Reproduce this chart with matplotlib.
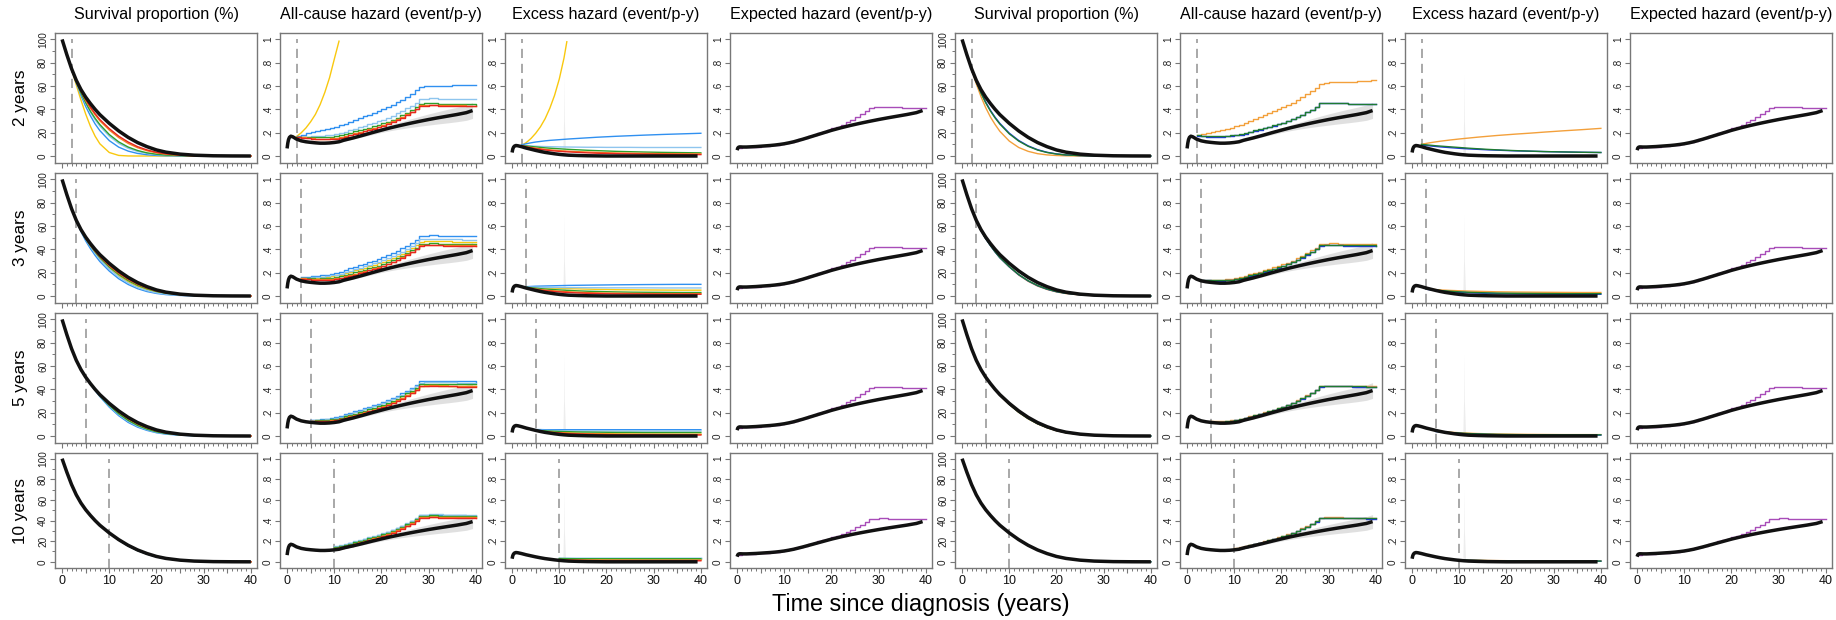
#imports for plotting
import matplotlib
matplotlib.use("Agg")
import matplotlib.pyplot as plt

plt.rcParams['font.family'] = ['Liberation Sans', 'DejaVu Sans']

#titles and labels
col_titles = ['Survival proportion (%)', 'All-cause hazard (event/p-y)',
              'Excess hazard (event/p-y)', 'Expected hazard (event/p-y)']
row_labels = ['2 years', '3 years', '5 years', '10 years']
cutoffs = [2, 3, 5, 10]

#colours of the models (left block, right block)
left_colors = ['#F9C80E', '#3090F0', '#8EC5EE', '#2DA02D', '#F58220', '#E6261F']
right_colors = ['#F3A03B', '#1F35E0', '#1E7B32']
purple = '#A84CB8'

#time grids
t_grid = [0, 1, 2, 3, 4, 5, 6, 7, 8, 10, 12, 14, 16, 18, 20, 22, 25, 28, 32, 36, 40]
years = list(range(41))
t_h = [0, 0.15, 0.3, 0.5, 0.8, 1.2, 1.6, 2, 3, 4, 5, 6, 7, 8, 9, 10, 11, 12, 14, 16,
       18, 20, 22, 24, 26, 28, 30, 32, 34, 36, 38, 39.3]

#observed (black) curves
surv_black = [100, 87, 75, 65, 57, 50.5, 45, 40, 35.5, 28, 21.5, 16, 11.5, 8, 5.2, 3.3,
              1.6, 0.7, 0.2, 0.05, 0]
allcause_black = [0.065, 0.11, 0.14, 0.16, 0.17, 0.165, 0.155, 0.145, 0.13, 0.122, 0.117,
                  0.113, 0.11, 0.11, 0.112, 0.116, 0.122, 0.135, 0.155, 0.177, 0.2, 0.222,
                  0.243, 0.262, 0.28, 0.297, 0.313, 0.328, 0.342, 0.356, 0.372, 0.39]
allcause_lo = [0.06, 0.105, 0.135, 0.155, 0.165, 0.16, 0.15, 0.14, 0.125, 0.117, 0.112,
               0.108, 0.105, 0.105, 0.107, 0.111, 0.117, 0.127, 0.145, 0.164, 0.183, 0.202,
               0.218, 0.232, 0.244, 0.255, 0.265, 0.275, 0.284, 0.294, 0.306, 0.322]
allcause_hi = [0.07, 0.115, 0.145, 0.165, 0.175, 0.17, 0.16, 0.15, 0.135, 0.127, 0.122,
               0.118, 0.115, 0.115, 0.117, 0.121, 0.127, 0.143, 0.165, 0.19, 0.217, 0.242,
               0.268, 0.292, 0.316, 0.339, 0.361, 0.381, 0.4, 0.418, 0.438, 0.458]
excess_black = [0.03, 0.06, 0.075, 0.085, 0.09, 0.088, 0.084, 0.08, 0.068, 0.058, 0.048,
                0.039, 0.031, 0.025, 0.019, 0.014, 0.01, 0.007, 0.004, 0.002, 0.001, 0,
                0, 0, 0, 0, 0, 0, 0, 0, 0, 0]
expected_black = [0.05, 0.068, 0.075, 0.078, 0.078, 0.077, 0.077, 0.077, 0.079, 0.081, 0.084,
                  0.087, 0.09, 0.094, 0.099, 0.105, 0.113, 0.122, 0.145, 0.17, 0.195, 0.22,
                  0.242, 0.262, 0.28, 0.297, 0.313, 0.328, 0.342, 0.356, 0.372, 0.39]
#yearly population hazard (purple steps)
expected_step = [0.07, 0.076, 0.077, 0.079, 0.081, 0.084, 0.087, 0.091, 0.096, 0.102, 0.11,
                 0.12, 0.132, 0.145, 0.158, 0.171, 0.184, 0.197, 0.21, 0.223, 0.236, 0.252,
                 0.27, 0.29, 0.311, 0.334, 0.358, 0.384, 0.415, 0.418, 0.42, 0.42, 0.419,
                 0.418, 0.417, 0.416, 0.415, 0.415, 0.414, 0.414, 0.413]
#faint spike in the excess panels
spike_x = [10.85, 11.02, 11.1, 11.18, 11.45]
spike_y = [0, 0.3, 0.7, 0.3, 0]

# ---------- 2 years ----------
#left block: gold, dodgerblue, skyblue, green, orange, red
surv_2y_left = [
    [75, 61, 48, 36, 25.5, 17, 10.5, 3, 0.5, 0.05, 0, 0, 0, 0, 0, 0, 0, 0, 0],
    [75, 63, 52, 42.5, 34.5, 27.5, 21.8, 13.2, 7.6, 4.2, 2.2, 1.1, 0.5, 0.2, 0.05, 0.01, 0, 0, 0],
    [75, 63.5, 53.5, 45, 37.5, 31, 25.6, 17, 10.8, 6.6, 3.9, 2.2, 1.2, 0.6, 0.2, 0.05, 0, 0, 0],
    [75, 64, 54, 45.8, 38.5, 32.3, 27, 18.4, 12.1, 7.7, 4.7, 2.7, 1.5, 0.8, 0.3, 0.08, 0.01, 0, 0],
    [75, 64.5, 55.5, 47.8, 41, 35.3, 30.2, 22.3, 15.8, 10.8, 7.1, 4.5, 2.7, 1.6, 0.6, 0.15, 0.02, 0, 0],
    [75, 65, 56, 48.5, 42, 36.3, 31.3, 23.5, 17, 12, 8, 5.2, 3.2, 1.9, 0.8, 0.25, 0.05, 0.01, 0]]
surv_2y_right = [
    [75, 62, 51, 41.5, 33.5, 27, 21.2, 12.8, 7.3, 4, 2, 0.95, 0.42, 0.16, 0.03, 0, 0, 0, 0],
    [75, 64, 54.5, 46.3, 39.2, 33.2, 28, 19.6, 13.3, 8.7, 5.4, 3.2, 1.8, 0.95, 0.35, 0.1, 0.01, 0, 0],
    [75, 63.8, 54, 45.7, 38.6, 32.6, 27.4, 19, 12.8, 8.3, 5.1, 3, 1.7, 0.9, 0.33, 0.09, 0.01, 0, 0]]
#gold model explodes, kept on its own time points
gold_2y_t = [2, 3, 4, 5, 6, 7, 8, 9, 10, 11, 11.6]
gold_2y_excess = [0.09, 0.115, 0.15, 0.195, 0.25, 0.32, 0.41, 0.52, 0.66, 0.84, 0.98]
gold_2y_allcause = [0.167, 0.199, 0.241, 0.294, 0.357, 0.441, 0.546, 0.672, 0.83, 0.985]
excess_2y_left = [
    None,
    [.095, .105, .113, .12, .125, .13, .134, .14, .146, .151, .156, .161, .165, .169, .174, .179, .185, .19, .195],
    [.09, .088, .086, .084, .082, .081, .08, .078, .077, .076, .075, .075, .074, .074, .074, .073, .073, .073, .073],
    [.09, .086, .082, .078, .074, .07, .067, .062, .057, .053, .049, .046, .043, .04, .037, .034, .031, .029, .027],
    [.088, .08, .073, .067, .062, .057, .053, .046, .041, .037, .034, .031, .028, .026, .024, .022, .02, .019, .018],
    [.087, .078, .07, .063, .057, .052, .047, .04, .035, .031, .027, .024, .022, .02, .018, .016, .014, .013, .012]]
excess_2y_right = [
    [.10, .108, .115, .121, .127, .132, .137, .146, .154, .162, .169, .176, .182, .188, .196, .205, .216, .226, .237],
    [.095, .09, .086, .082, .078, .075, .072, .066, .061, .057, .053, .05, .047, .044, .041, .038, .035, .032, .03],
    [.10, .096, .092, .088, .085, .082, .079, .073, .067, .062, .057, .053, .049, .046, .042, .038, .035, .032, .03]]
allcause_2y_left = [
    None,
    [.172, .184, .194, .204, .212, .221, .230, .239, .250, .263, .278, .293, .309, .324, .340, .355, .371, .386, .401, .419,
     .439, .461, .484, .508, .534, .562, .594, .598, .602, .603, .604, .604, .604, .605, .605, .606, .606, .608, .608],
    [.167, .167, .167, .168, .169, .172, .176, .181, .188, .198, .209, .222, .234, .247, .259, .272, .285, .298, .311, .327,
     .345, .365, .385, .408, .432, .458, .489, .492, .494, .494, .493, .492, .491, .490, .488, .488, .487, .487, .486],
    [.167, .165, .163, .162, .161, .161, .163, .166, .172, .179, .189, .200, .211, .222, .233, .244, .256, .267, .279, .293,
     .310, .329, .349, .371, .394, .419, .449, .451, .453, .452, .450, .449, .447, .446, .444, .444, .442, .442, .440],
    [.165, .159, .154, .151, .149, .148, .149, .151, .156, .163, .173, .184, .195, .206, .218, .229, .241, .252, .264, .279,
     .296, .315, .336, .358, .381, .406, .437, .439, .441, .440, .439, .438, .436, .435, .434, .434, .432, .432, .431],
    [.164, .157, .151, .147, .144, .143, .143, .145, .150, .157, .167, .178, .189, .200, .211, .222, .234, .246, .258, .273,
     .290, .309, .329, .352, .375, .400, .431, .433, .435, .434, .433, .432, .430, .429, .428, .428, .426, .426, .425]]
allcause_2y_right = [
    [.177, .187, .196, .205, .214, .223, .233, .244, .256, .270, .286, .303, .320, .337, .353, .370, .386, .402, .418, .437,
     .458, .481, .504, .530, .557, .586, .620, .626, .631, .633, .635, .636, .638, .639, .641, .644, .646, .648, .650],
    [.172, .169, .167, .166, .165, .166, .168, .171, .176, .183, .193, .204, .215, .226, .237, .248, .260, .271, .283, .297,
     .314, .333, .353, .375, .398, .423, .453, .455, .456, .455, .454, .452, .450, .449, .447, .446, .445, .444, .443],
    [.177, .175, .173, .172, .172, .173, .175, .178, .183, .190, .199, .210, .220, .231, .241, .252, .263, .274, .285, .299,
     .316, .334, .354, .375, .398, .423, .453, .455, .456, .455, .454, .452, .450, .449, .447, .446, .445, .444, .443]]

# ---------- 3 years ----------
surv_3y_left = [
    [65, 56.3, 49, 42.8, 37.1, 32.1, 24, 17.4, 12.2, 8.3, 5.4, 3.3, 2, 0.9, 0.35, 0.08, 0.02, 0],
    [65, 55.3, 47.3, 40.7, 34.8, 29.6, 21.4, 14.8, 9.9, 6.3, 3.8, 2.2, 1.2, 0.45, 0.15, 0.03, 0.01, 0],
    [65, 56.1, 48.8, 42.4, 36.6, 31.5, 23.2, 16.4, 11.2, 7.3, 4.6, 2.7, 1.6, 0.65, 0.23, 0.05, 0.01, 0],
    [65, 56.4, 49.2, 43.2, 37.8, 32.9, 24.9, 18.5, 13.3, 9.2, 6.2, 3.9, 2.4, 1.1, 0.47, 0.12, 0.03, 0],
    [65, 56.6, 49.6, 43.7, 38.4, 33.7, 25.9, 19.4, 14.2, 10, 6.8, 4.3, 2.7, 1.25, 0.52, 0.14, 0.03, 0],
    [65, 56.7, 49.8, 44, 38.8, 34.1, 26.4, 19.9, 14.6, 10.3, 7, 4.5, 2.8, 1.3, 0.55, 0.15, 0.04, 0]]
surv_3y_right = [
    [65, 56.5, 49.5, 43.5, 38, 33, 25, 18, 12.6, 8.5, 5.6, 3.5, 2.1, 0.95, 0.38, 0.1, 0.02, 0],
    [65, 56.3, 49.2, 43.2, 37.7, 32.8, 25, 18.2, 12.9, 8.8, 5.8, 3.7, 2.3, 1.05, 0.42, 0.11, 0.02, 0],
    [65, 56.4, 49.3, 43.3, 37.9, 33, 25.2, 18.4, 13.1, 9, 6, 3.8, 2.35, 1.1, 0.45, 0.12, 0.03, 0]]
excess_3y_left = [
    [.077, .075, .073, .071, .07, .068, .066, .063, .061, .059, .057, .056, .054, .053, .052, .051, .05, .05],
    [.08, .082, .084, .085, .086, .087, .089, .091, .092, .093, .094, .095, .096, .097, .098, .099, .1, .1],
    [.078, .077, .076, .075, .075, .074, .073, .072, .072, .071, .071, .07, .07, .07, .07, .069, .069, .069],
    [.075, .071, .067, .063, .06, .057, .052, .048, .044, .041, .039, .037, .035, .033, .032, .031, .03, .03],
    [.072, .066, .06, .055, .051, .047, .041, .036, .032, .029, .027, .025, .024, .022, .021, .02, .02, .02],
    [.07, .063, .057, .051, .046, .042, .035, .03, .026, .023, .021, .019, .018, .017, .016, .015, .015, .015]]
excess_3y_right = [
    [.062, .058, .055, .052, .05, .048, .045, .042, .04, .038, .036, .035, .034, .033, .032, .031, .03, .03],
    [.058, .053, .048, .044, .04, .037, .032, .028, .025, .022, .02, .019, .018, .017, .016, .015, .015, .015],
    [.06, .055, .051, .047, .044, .041, .036, .032, .029, .027, .025, .024, .023, .022, .021, .02, .02, .02]]
allcause_3y_left = [
    [.156, .156, .157, .158, .161, .164, .169, .176, .184, .195, .207, .219, .231, .243, .255, .267, .280, .292, .307, .324,
     .344, .364, .387, .411, .436, .467, .470, .472, .471, .470, .469, .468, .467, .465, .465, .464, .464, .463],
    [.159, .163, .168, .172, .177, .183, .190, .199, .210, .223, .237, .250, .264, .277, .291, .304, .318, .331, .348, .366,
     .386, .408, .431, .455, .482, .513, .516, .519, .519, .518, .518, .517, .516, .515, .515, .514, .514, .513],
    [.157, .158, .160, .162, .166, .170, .176, .183, .193, .204, .217, .230, .242, .255, .268, .281, .293, .306, .322, .340,
     .360, .381, .404, .428, .454, .485, .488, .490, .490, .489, .488, .487, .486, .485, .484, .483, .483, .482],
    [.154, .152, .151, .150, .151, .153, .157, .162, .170, .180, .191, .202, .214, .225, .237, .249, .261, .273, .288, .305,
     .325, .345, .367, .391, .416, .447, .450, .451, .451, .450, .449, .447, .446, .445, .445, .444, .444, .443],
    [.151, .147, .144, .142, .142, .143, .146, .151, .158, .168, .179, .190, .202, .213, .225, .237, .249, .261, .277, .294,
     .313, .334, .356, .380, .405, .436, .439, .440, .440, .439, .438, .437, .436, .435, .435, .434, .434, .433],
    [.149, .144, .141, .138, .137, .138, .140, .145, .153, .162, .173, .184, .196, .207, .219, .231, .243, .255, .271, .288,
     .308, .328, .351, .375, .400, .431, .434, .435, .435, .434, .433, .432, .431, .430, .430, .429, .429, .428]]
allcause_3y_right = [
    [.141, .139, .139, .139, .141, .144, .149, .155, .164, .174, .186, .198, .210, .222, .234, .246, .259, .271, .287, .304,
     .324, .344, .367, .391, .416, .447, .450, .452, .451, .450, .449, .448, .446, .445, .445, .444, .444, .443],
    [.137, .134, .132, .131, .131, .133, .137, .142, .150, .160, .172, .183, .195, .206, .218, .230, .243, .255, .271, .288,
     .308, .328, .351, .375, .400, .431, .434, .436, .435, .434, .433, .432, .431, .430, .430, .429, .429, .428],
    [.139, .136, .135, .134, .135, .137, .141, .146, .154, .164, .176, .187, .199, .211, .223, .235, .248, .260, .276, .293,
     .313, .333, .356, .380, .405, .436, .439, .441, .440, .439, .438, .437, .436, .435, .435, .434, .434, .433]]

# ---------- 5 years ----------
surv_5y_left = [
    [50.5, 44.9, 39.8, 35.1, 27.1, 20.2, 14.5, 10, 6.7, 4.2, 2.6, 1.2, 0.5, 0.13, 0.03, 0],
    [50.5, 44.6, 39, 33.8, 24.8, 17.4, 11.7, 7.6, 4.8, 2.8, 1.6, 0.68, 0.25, 0.06, 0.01, 0],
    [50.5, 44.8, 39.4, 34.3, 25.6, 18.3, 12.6, 8.3, 5.4, 3.2, 1.9, 0.81, 0.31, 0.08, 0.02, 0],
    [50.5, 44.9, 39.6, 34.6, 26.2, 19.1, 13.4, 9.1, 5.9, 3.6, 2.2, 0.96, 0.38, 0.1, 0.03, 0],
    [50.5, 45, 39.8, 35.2, 27.3, 20.4, 14.8, 10.3, 6.9, 4.4, 2.7, 1.25, 0.52, 0.14, 0.03, 0],
    [50.5, 45, 39.9, 35.3, 27.5, 20.7, 15.1, 10.6, 7.2, 4.6, 2.8, 1.3, 0.55, 0.15, 0.04, 0]]
surv_5y_right = [
    [50.5, 44.8, 39.6, 34.9, 26.9, 20.2, 14.7, 10.3, 7, 4.5, 2.8, 1.3, 0.54, 0.15, 0.04, 0],
    [50.5, 44.9, 39.7, 35.1, 27.2, 20.6, 15.1, 10.6, 7.3, 4.8, 3, 1.4, 0.58, 0.16, 0.04, 0],
    [50.5, 44.9, 39.7, 35, 27.1, 20.4, 14.9, 10.5, 7.2, 4.7, 2.9, 1.38, 0.57, 0.16, 0.04, 0]]
excess_5y_left = [
    [.045, .042, .039, .036, .031, .027, .024, .022, .02, .019, .018, .017, .016, .016, .015, .015],
    [.055, .055, .054, .054, .054, .054, .054, .054, .054, .054, .054, .054, .054, .054, .054, .054],
    [.05, .049, .048, .047, .046, .045, .045, .044, .044, .044, .043, .043, .043, .043, .043, .043],
    [.048, .046, .044, .042, .039, .037, .035, .034, .033, .032, .031, .031, .03, .03, .03, .03],
    [.045, .041, .037, .034, .028, .024, .021, .019, .017, .016, .015, .014, .014, .013, .013, .013],
    [.044, .039, .035, .031, .025, .02, .017, .015, .013, .012, .011, .01, .01, .009, .009, .009]]
excess_5y_right = [
    [.042, .039, .036, .033, .028, .024, .021, .019, .017, .016, .015, .014, .013, .012, .012, .012],
    [.039, .035, .031, .028, .023, .019, .016, .014, .012, .011, .01, .009, .009, .008, .008, .008],
    [.04, .036, .033, .03, .025, .021, .018, .016, .014, .013, .012, .011, .011, .01, .01, .01]]
allcause_5y_left = [
    [.129, .129, .130, .132, .136, .141, .149, .159, .171, .182, .194, .206, .218, .230, .243, .255, .271, .288,
     .308, .328, .351, .375, .400, .431, .434, .436, .436, .435, .434, .432, .431, .430, .430, .429, .429, .428],
    [.138, .141, .145, .150, .156, .164, .174, .186, .199, .212, .225, .238, .251, .264, .277, .290, .306, .324,
     .344, .365, .388, .412, .438, .469, .472, .474, .474, .473, .472, .471, .470, .469, .469, .468, .468, .467],
    [.134, .136, .139, .143, .149, .156, .166, .177, .190, .203, .216, .228, .241, .254, .267, .280, .296, .314,
     .333, .354, .377, .401, .427, .458, .461, .463, .463, .462, .461, .460, .459, .458, .458, .457, .457, .456],
    [.132, .133, .135, .138, .143, .149, .158, .169, .181, .193, .206, .218, .231, .243, .256, .268, .284, .301,
     .321, .342, .365, .388, .414, .445, .448, .450, .450, .449, .448, .447, .446, .445, .445, .444, .444, .443],
    [.129, .128, .128, .130, .133, .138, .146, .156, .168, .179, .191, .203, .215, .227, .240, .252, .268, .285,
     .305, .326, .348, .372, .398, .429, .432, .434, .434, .432, .431, .430, .429, .428, .428, .427, .427, .426],
    [.128, .126, .126, .127, .130, .135, .143, .152, .164, .175, .187, .199, .211, .223, .236, .248, .264, .281,
     .301, .321, .344, .368, .394, .425, .428, .430, .429, .428, .427, .426, .425, .424, .424, .423, .423, .422]]
allcause_5y_right = [
    [.126, .126, .127, .129, .133, .138, .146, .156, .168, .179, .191, .203, .215, .227, .240, .252, .268, .285,
     .305, .325, .348, .372, .397, .428, .431, .432, .432, .431, .430, .429, .428, .427, .427, .426, .426, .425],
    [.123, .122, .122, .124, .128, .133, .141, .151, .163, .174, .186, .198, .210, .222, .235, .247, .263, .280,
     .300, .320, .343, .367, .393, .424, .427, .428, .428, .427, .426, .425, .424, .423, .423, .422, .422, .421],
    [.124, .123, .124, .126, .130, .135, .143, .153, .165, .176, .188, .200, .212, .224, .237, .249, .265, .282,
     .302, .322, .345, .369, .395, .426, .429, .430, .430, .429, .428, .427, .426, .425, .425, .424, .424, .423]]

# ---------- 10 years ----------
surv_10y_left = [
    [28, 21.2, 15.6, 11.1, 7.7, 5, 3.1, 1.5, 0.62, 0.17, 0.04, 0],
    [28, 21.1, 15.4, 10.9, 7.5, 4.8, 3, 1.4, 0.57, 0.15, 0.03, 0],
    [28, 21, 15.3, 10.8, 7.4, 4.7, 2.9, 1.35, 0.55, 0.14, 0.03, 0],
    [28, 21.2, 15.5, 11, 7.6, 4.9, 3.05, 1.45, 0.6, 0.16, 0.04, 0],
    [28, 21.3, 15.7, 11.2, 7.8, 5.05, 3.15, 1.52, 0.64, 0.18, 0.04, 0],
    [28, 21.4, 15.8, 11.3, 7.9, 5.1, 3.2, 1.55, 0.66, 0.19, 0.05, 0]]
surv_10y_right = [
    [28, 21.4, 15.8, 11.3, 7.9, 5.1, 3.2, 1.55, 0.66, 0.19, 0.05, 0],
    [28, 21.45, 15.9, 11.4, 7.95, 5.15, 3.27, 1.58, 0.69, 0.2, 0.05, 0],
    [28, 21.4, 15.9, 11.4, 7.9, 5.15, 3.25, 1.57, 0.68, 0.19, 0.05, 0]]
excess_10y_left = [
    [.025, .025, .025, .025, .025, .025, .025, .025, .025, .025, .025, .025],
    [.035, .035, .035, .035, .035, .035, .035, .035, .035, .035, .035, .035],
    [.04, .04, .04, .04, .04, .04, .04, .04, .04, .04, .04, .04],
    [.032, .031, .03, .03, .03, .03, .03, .03, .03, .03, .03, .03],
    [.022, .02, .019, .018, .018, .017, .017, .017, .016, .016, .016, .016],
    [.015, .013, .012, .011, .011, .01, .01, .01, .01, .01, .01, .01]]
excess_10y_right = [
    [.02, .017, .015, .013, .012, .011, .01, .01, .009, .009, .009, .009],
    [.017, .014, .012, .01, .009, .008, .007, .007, .006, .006, .006, .006],
    [.018, .015, .013, .011, .01, .009, .008, .008, .007, .007, .007, .007]]
allcause_10y_left = [
    [.135, .145, .157, .170, .183, .196, .209, .222, .235, .248, .261, .277, .295, .315, .336, .359,
     .383, .409, .440, .443, .445, .445, .444, .443, .442, .441, .440, .440, .439, .439, .438],
    [.145, .155, .167, .180, .193, .206, .219, .232, .245, .258, .271, .287, .305, .325, .346, .369,
     .393, .419, .450, .453, .455, .455, .454, .453, .452, .451, .450, .450, .449, .449, .448],
    [.150, .160, .172, .185, .198, .211, .224, .237, .250, .263, .276, .292, .310, .330, .351, .374,
     .398, .424, .455, .458, .460, .460, .459, .458, .457, .456, .455, .455, .454, .454, .453],
    [.140, .150, .162, .175, .188, .201, .214, .227, .240, .253, .266, .282, .300, .320, .341, .364,
     .388, .414, .445, .448, .450, .450, .449, .448, .447, .446, .445, .445, .444, .444, .443],
    [.132, .141, .152, .165, .177, .190, .202, .215, .228, .241, .254, .269, .287, .307, .328, .351,
     .375, .401, .432, .435, .437, .437, .436, .435, .434, .433, .432, .431, .430, .430, .429],
    [.125, .134, .145, .157, .170, .183, .195, .208, .221, .234, .247, .262, .280, .300, .321, .344,
     .368, .394, .425, .428, .430, .430, .429, .428, .427, .426, .425, .425, .424, .424, .423]]
allcause_10y_right = [
    [.130, .139, .150, .162, .174, .186, .199, .211, .224, .236, .249, .265, .283, .302, .323, .346,
     .370, .396, .427, .430, .431, .431, .430, .429, .428, .427, .426, .426, .425, .425, .424],
    [.127, .136, .146, .158, .170, .182, .194, .206, .219, .231, .244, .259, .277, .296, .317, .340,
     .364, .390, .421, .424, .425, .425, .424, .423, .422, .421, .420, .420, .419, .419, .418],
    [.128, .137, .148, .160, .172, .184, .196, .208, .221, .233, .246, .261, .279, .298, .319, .342,
     .366, .392, .423, .426, .427, .427, .426, .425, .424, .423, .422, .422, .421, .421, .420]]

surv_rows = [(surv_2y_left, surv_2y_right), (surv_3y_left, surv_3y_right),
             (surv_5y_left, surv_5y_right), (surv_10y_left, surv_10y_right)]
excess_rows = [(excess_2y_left, excess_2y_right), (excess_3y_left, excess_3y_right),
               (excess_5y_left, excess_5y_right), (excess_10y_left, excess_10y_right)]
allcause_rows = [(allcause_2y_left, allcause_2y_right), (allcause_3y_left, allcause_3y_right),
                 (allcause_5y_left, allcause_5y_right), (allcause_10y_left, allcause_10y_right)]

#figure layout in pixels
W, H = 1836, 620
col_left = [55 + 225 * i for i in range(8)]
panel_w = 202
row_top = [33, 173, 313, 453]
row_bot = [163, 303, 443, 568]

frame_col = '#777777'
black_lw = 2.5
model_lw = 1.0
dash = (0, (5.5, 3.5))


def style_axes(ax, kind, bottom):
    ax.set_xlim(-1.5, 41.3)
    ax.set_xticks(range(0, 41, 5))
    ax.set_xticks(range(0, 41), minor=True)
    if bottom:
        ax.set_xticklabels(['0', '', '10', '', '20', '', '30', '', '40'])
    else:
        ax.set_xticklabels([])
    if kind == 'surv':
        ax.set_ylim(-6, 105.5)
        ax.set_yticks([0, 20, 40, 60, 80, 100])
        ax.set_yticks([10, 30, 50, 70, 90], minor=True)
        ax.set_yticklabels(['0', '20', '40', '60', '80', '100'], rotation=90, va='center')
    else:
        ax.set_ylim(-0.06, 1.055)
        ax.set_yticks([0, 0.2, 0.4, 0.6, 0.8, 1])
        ax.set_yticklabels(['0', '.2', '.4', '.6', '.8', '1'], rotation=90, va='center')
    for s in ax.spines.values():
        s.set_color(frame_col)
        s.set_linewidth(1.0)
    ax.tick_params(axis='both', which='major', length=3.5, width=0.8, color=frame_col, pad=1.5)
    ax.tick_params(axis='both', which='minor', length=2.2, width=0.7, color=frame_col)
    ax.tick_params(axis='x', labelsize=9, labelcolor='#111111')
    ax.tick_params(axis='y', labelsize=7.2, labelcolor='#222222')


fig = plt.figure(figsize=(W / 100, H / 100), dpi=100)

for r in range(4):
    c = cutoffs[r]
    gi = t_grid.index(c)
    bottom = (r == 3)
    for half in range(2):
        colors = left_colors if half == 0 else right_colors
        surv = surv_rows[r][half]
        exc = excess_rows[r][half]
        acs = allcause_rows[r][half]
        axs = []
        for k in range(4):
            col = half * 4 + k
            ax = fig.add_axes([col_left[col] / W, 1 - row_bot[r] / H, panel_w / W,
                               (row_bot[r] - row_top[r]) / H])
            axs.append(ax)

        #survival
        ax = axs[0]
        style_axes(ax, 'surv', bottom)
        ax.plot([c, c], [-6, 100], color='#9a9a9a', lw=1.2, linestyle=dash)
        for vals, colr in zip(surv, colors):
            ax.plot(t_grid[gi:gi + len(vals)], vals, color=colr, lw=model_lw)
        ax.plot(t_grid, surv_black, color='#111111', lw=black_lw, solid_capstyle='butt')

        #all-cause hazard
        ax = axs[1]
        style_axes(ax, 'haz', bottom)
        ax.fill_between(t_h, allcause_lo, allcause_hi, color='#d4d4d4', alpha=0.7, lw=0)
        ax.plot([c, c], [-0.06, 1], color='#9a9a9a', lw=1.2, linestyle=dash)
        for vals, colr in zip(acs, colors):
            if vals is None:
                ax.plot(gold_2y_t[:len(gold_2y_allcause)], gold_2y_allcause, color=colr, lw=model_lw)
            else:
                ax.plot(years[c:c + len(vals)], vals, color=colr, lw=model_lw, drawstyle='steps-post')
        ax.plot(t_h, allcause_black, color='#111111', lw=black_lw, solid_capstyle='butt')

        #excess hazard
        ax = axs[2]
        style_axes(ax, 'haz', bottom)
        ax.fill(spike_x, spike_y, color='#b8b8b8', alpha=0.25, lw=0)
        ax.plot([c, c], [-0.06, 1], color='#9a9a9a', lw=1.2, linestyle=dash)
        for vals, colr in zip(exc, colors):
            if vals is None:
                ax.plot(gold_2y_t, gold_2y_excess, color=colr, lw=model_lw)
            else:
                ax.plot(t_grid[gi:gi + len(vals)], vals, color=colr, lw=model_lw)
        ax.plot(t_h, excess_black, color='#111111', lw=black_lw, solid_capstyle='butt')

        #expected hazard
        ax = axs[3]
        style_axes(ax, 'haz', bottom)
        ax.plot(years, expected_step, color=purple, lw=model_lw, drawstyle='steps-post')
        ax.plot(t_h, expected_black, color='#111111', lw=black_lw, solid_capstyle='butt')

#column titles
for col in range(8):
    fig.text((col_left[col] + panel_w / 2) / W, 1 - 14 / H, col_titles[col % 4],
             ha='center', va='center', fontsize=11.6)

#row labels
for r in range(4):
    fig.text(20 / W, 1 - (row_top[r] + row_bot[r]) / 2 / H, row_labels[r],
             rotation=90, ha='center', va='center', fontsize=12.3)

fig.text(921 / W, 1 - 605 / H, 'Time since diagnosis (years)', ha='center', va='center',
         fontsize=16.8)

fig.savefig('out.png', dpi=100)
